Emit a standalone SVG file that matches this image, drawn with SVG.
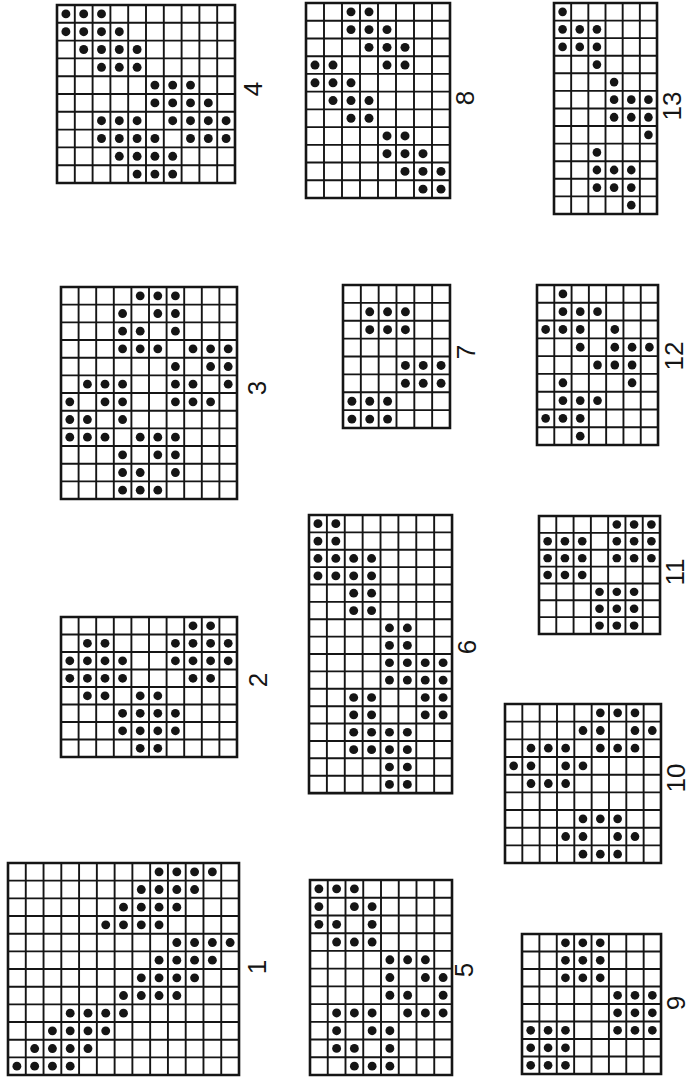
<svg xmlns="http://www.w3.org/2000/svg" xmlns:xlink="http://www.w3.org/1999/xlink" width="689" height="1077" viewBox="0 0 689 1077">
<style>
.in{fill:none;stroke:#151515;stroke-width:1.9;vector-effect:non-scaling-stroke}
.bd{fill:none;stroke:#151515;stroke-width:2.6;vector-effect:non-scaling-stroke}
.lb{font-family:"Liberation Sans",Arial,sans-serif;font-size:26px;fill:#151515;text-anchor:middle;dominant-baseline:central}
</style>
<defs>
<circle id="d" cx="0.5" cy="0.5" r="0.25" fill="#151515"/>
</defs>
<rect width="689" height="1077" fill="#ffffff"/>
<g id="connectors"/>

<g id="n4">
<g transform="translate(57 5) scale(17.8 17.8)">
<path class="in" d="M1 0V10M2 0V10M3 0V10M4 0V10M5 0V10M6 0V10M7 0V10M8 0V10M9 0V10M0 1H10M0 2H10M0 3H10M0 4H10M0 5H10M0 6H10M0 7H10M0 8H10M0 9H10"/>
<rect class="bd" width="10" height="10"/>
<use href="#d" x="0" y="0"/><use href="#d" x="1" y="0"/><use href="#d" x="2" y="0"/>
<use href="#d" x="0" y="1"/><use href="#d" x="1" y="1"/><use href="#d" x="2" y="1"/><use href="#d" x="3" y="1"/>
<use href="#d" x="1" y="2"/><use href="#d" x="2" y="2"/><use href="#d" x="3" y="2"/><use href="#d" x="4" y="2"/>
<use href="#d" x="2" y="3"/><use href="#d" x="3" y="3"/><use href="#d" x="4" y="3"/>
<use href="#d" x="5" y="4"/><use href="#d" x="6" y="4"/><use href="#d" x="7" y="4"/>
<use href="#d" x="5" y="5"/><use href="#d" x="6" y="5"/><use href="#d" x="7" y="5"/><use href="#d" x="8" y="5"/>
<use href="#d" x="2" y="6"/><use href="#d" x="3" y="6"/><use href="#d" x="4" y="6"/><use href="#d" x="6" y="6"/><use href="#d" x="7" y="6"/><use href="#d" x="8" y="6"/><use href="#d" x="9" y="6"/>
<use href="#d" x="2" y="7"/><use href="#d" x="3" y="7"/><use href="#d" x="4" y="7"/><use href="#d" x="5" y="7"/><use href="#d" x="7" y="7"/><use href="#d" x="8" y="7"/><use href="#d" x="9" y="7"/>
<use href="#d" x="3" y="8"/><use href="#d" x="4" y="8"/><use href="#d" x="5" y="8"/><use href="#d" x="6" y="8"/>
<use href="#d" x="4" y="9"/><use href="#d" x="5" y="9"/><use href="#d" x="6" y="9"/>
</g>
<text class="lb" x="253" y="89" transform="rotate(-90 253 89)">4</text>
</g>

<g id="n8">
<g transform="translate(306 3) scale(18 17.73)">
<path class="in" d="M1 0V11M2 0V11M3 0V11M4 0V11M5 0V11M6 0V11M7 0V11M0 1H8M0 2H8M0 3H8M0 4H8M0 5H8M0 6H8M0 7H8M0 8H8M0 9H8M0 10H8"/>
<rect class="bd" width="8" height="11"/>
<use href="#d" x="2" y="0"/><use href="#d" x="3" y="0"/>
<use href="#d" x="2" y="1"/><use href="#d" x="3" y="1"/><use href="#d" x="4" y="1"/>
<use href="#d" x="3" y="2"/><use href="#d" x="4" y="2"/><use href="#d" x="5" y="2"/>
<use href="#d" x="0" y="3"/><use href="#d" x="1" y="3"/><use href="#d" x="4" y="3"/><use href="#d" x="5" y="3"/>
<use href="#d" x="0" y="4"/><use href="#d" x="1" y="4"/><use href="#d" x="2" y="4"/>
<use href="#d" x="1" y="5"/><use href="#d" x="2" y="5"/><use href="#d" x="3" y="5"/>
<use href="#d" x="2" y="6"/><use href="#d" x="3" y="6"/>
<use href="#d" x="4" y="7"/><use href="#d" x="5" y="7"/>
<use href="#d" x="4" y="8"/><use href="#d" x="5" y="8"/><use href="#d" x="6" y="8"/>
<use href="#d" x="5" y="9"/><use href="#d" x="6" y="9"/><use href="#d" x="7" y="9"/>
<use href="#d" x="6" y="10"/><use href="#d" x="7" y="10"/>
</g>
<text class="lb" x="465" y="98" transform="rotate(-90 465 98)">8</text>
</g>

<g id="n13">
<g transform="translate(554 3) scale(17.17 17.58)">
<path class="in" d="M1 0V12M2 0V12M3 0V12M4 0V12M5 0V12M0 1H6M0 2H6M0 3H6M0 4H6M0 5H6M0 6H6M0 7H6M0 8H6M0 9H6M0 10H6M0 11H6"/>
<rect class="bd" width="6" height="12"/>
<use href="#d" x="0" y="0"/>
<use href="#d" x="0" y="1"/><use href="#d" x="1" y="1"/><use href="#d" x="2" y="1"/>
<use href="#d" x="0" y="2"/><use href="#d" x="1" y="2"/><use href="#d" x="2" y="2"/>
<use href="#d" x="2" y="3"/>
<use href="#d" x="3" y="4"/>
<use href="#d" x="3" y="5"/><use href="#d" x="4" y="5"/><use href="#d" x="5" y="5"/>
<use href="#d" x="3" y="6"/><use href="#d" x="4" y="6"/><use href="#d" x="5" y="6"/>
<use href="#d" x="5" y="7"/>
<use href="#d" x="2" y="8"/>
<use href="#d" x="2" y="9"/><use href="#d" x="3" y="9"/><use href="#d" x="4" y="9"/>
<use href="#d" x="2" y="10"/><use href="#d" x="3" y="10"/><use href="#d" x="4" y="10"/>
<use href="#d" x="4" y="11"/>
</g>
<text class="lb" x="672" y="106" transform="rotate(-90 672 106)">13</text>
</g>

<g id="n3">
<g transform="translate(61 287) scale(17.6 17.67)">
<path class="in" d="M1 0V12M2 0V12M3 0V12M4 0V12M5 0V12M6 0V12M7 0V12M8 0V12M9 0V12M0 1H10M0 2H10M0 3H10M0 4H10M0 5H10M0 6H10M0 7H10M0 8H10M0 9H10M0 10H10M0 11H10"/>
<rect class="bd" width="10" height="12"/>
<use href="#d" x="4" y="0"/><use href="#d" x="5" y="0"/><use href="#d" x="6" y="0"/>
<use href="#d" x="3" y="1"/><use href="#d" x="5" y="1"/><use href="#d" x="6" y="1"/>
<use href="#d" x="3" y="2"/><use href="#d" x="4" y="2"/><use href="#d" x="6" y="2"/>
<use href="#d" x="3" y="3"/><use href="#d" x="4" y="3"/><use href="#d" x="5" y="3"/><use href="#d" x="7" y="3"/><use href="#d" x="8" y="3"/><use href="#d" x="9" y="3"/>
<use href="#d" x="6" y="4"/><use href="#d" x="8" y="4"/><use href="#d" x="9" y="4"/>
<use href="#d" x="1" y="5"/><use href="#d" x="2" y="5"/><use href="#d" x="3" y="5"/><use href="#d" x="6" y="5"/><use href="#d" x="7" y="5"/><use href="#d" x="9" y="5"/>
<use href="#d" x="0" y="6"/><use href="#d" x="2" y="6"/><use href="#d" x="3" y="6"/><use href="#d" x="6" y="6"/><use href="#d" x="7" y="6"/><use href="#d" x="8" y="6"/>
<use href="#d" x="0" y="7"/><use href="#d" x="1" y="7"/><use href="#d" x="3" y="7"/>
<use href="#d" x="0" y="8"/><use href="#d" x="1" y="8"/><use href="#d" x="2" y="8"/><use href="#d" x="4" y="8"/><use href="#d" x="5" y="8"/><use href="#d" x="6" y="8"/>
<use href="#d" x="3" y="9"/><use href="#d" x="5" y="9"/><use href="#d" x="6" y="9"/>
<use href="#d" x="3" y="10"/><use href="#d" x="4" y="10"/><use href="#d" x="6" y="10"/>
<use href="#d" x="3" y="11"/><use href="#d" x="4" y="11"/><use href="#d" x="5" y="11"/>
</g>
<text class="lb" x="257" y="388" transform="rotate(-90 257 388)">3</text>
</g>

<g id="n7">
<g transform="translate(343 285) scale(17.83 17.88)">
<path class="in" d="M1 0V8M2 0V8M3 0V8M4 0V8M5 0V8M0 1H6M0 2H6M0 3H6M0 4H6M0 5H6M0 6H6M0 7H6"/>
<rect class="bd" width="6" height="8"/>
<use href="#d" x="1" y="1"/><use href="#d" x="2" y="1"/><use href="#d" x="3" y="1"/>
<use href="#d" x="1" y="2"/><use href="#d" x="2" y="2"/><use href="#d" x="3" y="2"/>
<use href="#d" x="3" y="4"/><use href="#d" x="4" y="4"/><use href="#d" x="5" y="4"/>
<use href="#d" x="3" y="5"/><use href="#d" x="4" y="5"/><use href="#d" x="5" y="5"/>
<use href="#d" x="0" y="6"/><use href="#d" x="1" y="6"/><use href="#d" x="2" y="6"/>
<use href="#d" x="0" y="7"/><use href="#d" x="1" y="7"/><use href="#d" x="2" y="7"/>
</g>
<text class="lb" x="466" y="352" transform="rotate(-90 466 352)">7</text>
</g>

<g id="n12">
<g transform="translate(537 285) scale(17.29 17.78)">
<path class="in" d="M1 0V9M2 0V9M3 0V9M4 0V9M5 0V9M6 0V9M0 1H7M0 2H7M0 3H7M0 4H7M0 5H7M0 6H7M0 7H7M0 8H7"/>
<rect class="bd" width="7" height="9"/>
<use href="#d" x="1" y="0"/>
<use href="#d" x="1" y="1"/><use href="#d" x="2" y="1"/><use href="#d" x="3" y="1"/>
<use href="#d" x="0" y="2"/><use href="#d" x="1" y="2"/><use href="#d" x="2" y="2"/><use href="#d" x="4" y="2"/>
<use href="#d" x="2" y="3"/><use href="#d" x="4" y="3"/><use href="#d" x="5" y="3"/><use href="#d" x="6" y="3"/>
<use href="#d" x="3" y="4"/><use href="#d" x="4" y="4"/><use href="#d" x="5" y="4"/>
<use href="#d" x="1" y="5"/><use href="#d" x="5" y="5"/>
<use href="#d" x="1" y="6"/><use href="#d" x="2" y="6"/><use href="#d" x="3" y="6"/>
<use href="#d" x="0" y="7"/><use href="#d" x="1" y="7"/><use href="#d" x="2" y="7"/>
<use href="#d" x="2" y="8"/>
</g>
<text class="lb" x="674" y="356" transform="rotate(-90 674 356)">12</text>
</g>

<g id="n2">
<g transform="translate(61 617) scale(17.6 17.5)">
<path class="in" d="M1 0V8M2 0V8M3 0V8M4 0V8M5 0V8M6 0V8M7 0V8M8 0V8M9 0V8M0 1H10M0 2H10M0 3H10M0 4H10M0 5H10M0 6H10M0 7H10"/>
<rect class="bd" width="10" height="8"/>
<use href="#d" x="7" y="0"/><use href="#d" x="8" y="0"/>
<use href="#d" x="1" y="1"/><use href="#d" x="2" y="1"/><use href="#d" x="6" y="1"/><use href="#d" x="7" y="1"/><use href="#d" x="8" y="1"/><use href="#d" x="9" y="1"/>
<use href="#d" x="0" y="2"/><use href="#d" x="1" y="2"/><use href="#d" x="2" y="2"/><use href="#d" x="3" y="2"/><use href="#d" x="6" y="2"/><use href="#d" x="7" y="2"/><use href="#d" x="8" y="2"/><use href="#d" x="9" y="2"/>
<use href="#d" x="0" y="3"/><use href="#d" x="1" y="3"/><use href="#d" x="2" y="3"/><use href="#d" x="3" y="3"/><use href="#d" x="7" y="3"/><use href="#d" x="8" y="3"/>
<use href="#d" x="1" y="4"/><use href="#d" x="2" y="4"/><use href="#d" x="4" y="4"/><use href="#d" x="5" y="4"/>
<use href="#d" x="3" y="5"/><use href="#d" x="4" y="5"/><use href="#d" x="5" y="5"/><use href="#d" x="6" y="5"/>
<use href="#d" x="3" y="6"/><use href="#d" x="4" y="6"/><use href="#d" x="5" y="6"/><use href="#d" x="6" y="6"/>
<use href="#d" x="4" y="7"/><use href="#d" x="5" y="7"/>
</g>
<text class="lb" x="258" y="680" transform="rotate(-90 258 680)">2</text>
</g>

<g id="n6">
<g transform="translate(309 515) scale(17.88 17.38)">
<path class="in" d="M1 0V16M2 0V16M3 0V16M4 0V16M5 0V16M6 0V16M7 0V16M0 1H8M0 2H8M0 3H8M0 4H8M0 5H8M0 6H8M0 7H8M0 8H8M0 9H8M0 10H8M0 11H8M0 12H8M0 13H8M0 14H8M0 15H8"/>
<rect class="bd" width="8" height="16"/>
<use href="#d" x="0" y="0"/><use href="#d" x="1" y="0"/>
<use href="#d" x="0" y="1"/><use href="#d" x="1" y="1"/>
<use href="#d" x="0" y="2"/><use href="#d" x="1" y="2"/><use href="#d" x="2" y="2"/><use href="#d" x="3" y="2"/>
<use href="#d" x="0" y="3"/><use href="#d" x="1" y="3"/><use href="#d" x="2" y="3"/><use href="#d" x="3" y="3"/>
<use href="#d" x="2" y="4"/><use href="#d" x="3" y="4"/>
<use href="#d" x="2" y="5"/><use href="#d" x="3" y="5"/>
<use href="#d" x="4" y="6"/><use href="#d" x="5" y="6"/>
<use href="#d" x="4" y="7"/><use href="#d" x="5" y="7"/>
<use href="#d" x="4" y="8"/><use href="#d" x="5" y="8"/><use href="#d" x="6" y="8"/><use href="#d" x="7" y="8"/>
<use href="#d" x="4" y="9"/><use href="#d" x="5" y="9"/><use href="#d" x="6" y="9"/><use href="#d" x="7" y="9"/>
<use href="#d" x="2" y="10"/><use href="#d" x="3" y="10"/><use href="#d" x="6" y="10"/><use href="#d" x="7" y="10"/>
<use href="#d" x="2" y="11"/><use href="#d" x="3" y="11"/><use href="#d" x="6" y="11"/><use href="#d" x="7" y="11"/>
<use href="#d" x="2" y="12"/><use href="#d" x="3" y="12"/><use href="#d" x="4" y="12"/><use href="#d" x="5" y="12"/>
<use href="#d" x="2" y="13"/><use href="#d" x="3" y="13"/><use href="#d" x="4" y="13"/><use href="#d" x="5" y="13"/>
<use href="#d" x="4" y="14"/><use href="#d" x="5" y="14"/>
<use href="#d" x="4" y="15"/><use href="#d" x="5" y="15"/>
</g>
<text class="lb" x="467" y="647" transform="rotate(-90 467 647)">6</text>
</g>

<g id="n11">
<g transform="translate(539 516) scale(17.29 16.86)">
<path class="in" d="M1 0V7M2 0V7M3 0V7M4 0V7M5 0V7M6 0V7M0 1H7M0 2H7M0 3H7M0 4H7M0 5H7M0 6H7"/>
<rect class="bd" width="7" height="7"/>
<use href="#d" x="4" y="0"/><use href="#d" x="5" y="0"/><use href="#d" x="6" y="0"/>
<use href="#d" x="0" y="1"/><use href="#d" x="1" y="1"/><use href="#d" x="2" y="1"/><use href="#d" x="4" y="1"/><use href="#d" x="5" y="1"/><use href="#d" x="6" y="1"/>
<use href="#d" x="0" y="2"/><use href="#d" x="1" y="2"/><use href="#d" x="2" y="2"/><use href="#d" x="4" y="2"/><use href="#d" x="5" y="2"/><use href="#d" x="6" y="2"/>
<use href="#d" x="0" y="3"/><use href="#d" x="1" y="3"/><use href="#d" x="2" y="3"/>
<use href="#d" x="3" y="4"/><use href="#d" x="4" y="4"/><use href="#d" x="5" y="4"/>
<use href="#d" x="3" y="5"/><use href="#d" x="4" y="5"/><use href="#d" x="5" y="5"/>
<use href="#d" x="3" y="6"/><use href="#d" x="4" y="6"/><use href="#d" x="5" y="6"/>
</g>
<text class="lb" x="675" y="572" transform="rotate(-90 675 572)">11</text>
</g>

<g id="n10">
<g transform="translate(505 704) scale(17.33 17.67)">
<path class="in" d="M1 0V9M2 0V9M3 0V9M4 0V9M5 0V9M6 0V9M7 0V9M8 0V9M0 1H9M0 2H9M0 3H9M0 4H9M0 5H9M0 6H9M0 7H9M0 8H9"/>
<rect class="bd" width="9" height="9"/>
<use href="#d" x="5" y="0"/><use href="#d" x="6" y="0"/><use href="#d" x="7" y="0"/>
<use href="#d" x="4" y="1"/><use href="#d" x="5" y="1"/><use href="#d" x="7" y="1"/><use href="#d" x="8" y="1"/>
<use href="#d" x="1" y="2"/><use href="#d" x="2" y="2"/><use href="#d" x="3" y="2"/><use href="#d" x="5" y="2"/><use href="#d" x="6" y="2"/><use href="#d" x="7" y="2"/>
<use href="#d" x="0" y="3"/><use href="#d" x="1" y="3"/><use href="#d" x="3" y="3"/><use href="#d" x="4" y="3"/>
<use href="#d" x="1" y="4"/><use href="#d" x="2" y="4"/><use href="#d" x="3" y="4"/>
<use href="#d" x="4" y="6"/><use href="#d" x="5" y="6"/><use href="#d" x="6" y="6"/>
<use href="#d" x="3" y="7"/><use href="#d" x="4" y="7"/><use href="#d" x="6" y="7"/><use href="#d" x="7" y="7"/>
<use href="#d" x="4" y="8"/><use href="#d" x="5" y="8"/><use href="#d" x="6" y="8"/>
</g>
<text class="lb" x="676" y="778" transform="rotate(-90 676 778)">10</text>
</g>

<g id="n1">
<g transform="translate(8 863) scale(17.77 17.67)">
<path class="in" d="M1 0V12M2 0V12M3 0V12M4 0V12M5 0V12M6 0V12M7 0V12M8 0V12M9 0V12M10 0V12M11 0V12M12 0V12M0 1H13M0 2H13M0 3H13M0 4H13M0 5H13M0 6H13M0 7H13M0 8H13M0 9H13M0 10H13M0 11H13"/>
<rect class="bd" width="13" height="12"/>
<use href="#d" x="8" y="0"/><use href="#d" x="9" y="0"/><use href="#d" x="10" y="0"/><use href="#d" x="11" y="0"/>
<use href="#d" x="7" y="1"/><use href="#d" x="8" y="1"/><use href="#d" x="9" y="1"/><use href="#d" x="10" y="1"/>
<use href="#d" x="6" y="2"/><use href="#d" x="7" y="2"/><use href="#d" x="8" y="2"/><use href="#d" x="9" y="2"/>
<use href="#d" x="5" y="3"/><use href="#d" x="6" y="3"/><use href="#d" x="7" y="3"/><use href="#d" x="8" y="3"/>
<use href="#d" x="9" y="4"/><use href="#d" x="10" y="4"/><use href="#d" x="11" y="4"/><use href="#d" x="12" y="4"/>
<use href="#d" x="8" y="5"/><use href="#d" x="9" y="5"/><use href="#d" x="10" y="5"/><use href="#d" x="11" y="5"/>
<use href="#d" x="7" y="6"/><use href="#d" x="8" y="6"/><use href="#d" x="9" y="6"/><use href="#d" x="10" y="6"/>
<use href="#d" x="6" y="7"/><use href="#d" x="7" y="7"/><use href="#d" x="8" y="7"/><use href="#d" x="9" y="7"/>
<use href="#d" x="3" y="8"/><use href="#d" x="4" y="8"/><use href="#d" x="5" y="8"/><use href="#d" x="6" y="8"/>
<use href="#d" x="2" y="9"/><use href="#d" x="3" y="9"/><use href="#d" x="4" y="9"/><use href="#d" x="5" y="9"/>
<use href="#d" x="1" y="10"/><use href="#d" x="2" y="10"/><use href="#d" x="3" y="10"/><use href="#d" x="4" y="10"/>
<use href="#d" x="0" y="11"/><use href="#d" x="1" y="11"/><use href="#d" x="2" y="11"/><use href="#d" x="3" y="11"/>
</g>
<text class="lb" x="257" y="967" transform="rotate(-90 257 967)">1</text>
</g>

<g id="n5">
<g transform="translate(310 880) scale(17.75 17.73)">
<path class="in" d="M1 0V11M2 0V11M3 0V11M4 0V11M5 0V11M6 0V11M7 0V11M0 1H8M0 2H8M0 3H8M0 4H8M0 5H8M0 6H8M0 7H8M0 8H8M0 9H8M0 10H8"/>
<rect class="bd" width="8" height="11"/>
<use href="#d" x="0" y="0"/><use href="#d" x="1" y="0"/><use href="#d" x="2" y="0"/>
<use href="#d" x="0" y="1"/><use href="#d" x="2" y="1"/><use href="#d" x="3" y="1"/>
<use href="#d" x="0" y="2"/><use href="#d" x="1" y="2"/><use href="#d" x="3" y="2"/>
<use href="#d" x="1" y="3"/><use href="#d" x="2" y="3"/><use href="#d" x="3" y="3"/>
<use href="#d" x="4" y="4"/><use href="#d" x="5" y="4"/><use href="#d" x="6" y="4"/>
<use href="#d" x="4" y="5"/><use href="#d" x="6" y="5"/><use href="#d" x="7" y="5"/>
<use href="#d" x="4" y="6"/><use href="#d" x="5" y="6"/><use href="#d" x="7" y="6"/>
<use href="#d" x="1" y="7"/><use href="#d" x="2" y="7"/><use href="#d" x="3" y="7"/><use href="#d" x="5" y="7"/><use href="#d" x="6" y="7"/><use href="#d" x="7" y="7"/>
<use href="#d" x="1" y="8"/><use href="#d" x="3" y="8"/><use href="#d" x="4" y="8"/>
<use href="#d" x="1" y="9"/><use href="#d" x="2" y="9"/><use href="#d" x="4" y="9"/>
<use href="#d" x="2" y="10"/><use href="#d" x="3" y="10"/><use href="#d" x="4" y="10"/>
</g>
<text class="lb" x="464" y="970" transform="rotate(-90 464 970)">5</text>
</g>

<g id="n9">
<g transform="translate(522 934) scale(17.38 17.5)">
<path class="in" d="M1 0V8M2 0V8M3 0V8M4 0V8M5 0V8M6 0V8M7 0V8M0 1H8M0 2H8M0 3H8M0 4H8M0 5H8M0 6H8M0 7H8"/>
<rect class="bd" width="8" height="8"/>
<use href="#d" x="2" y="0"/><use href="#d" x="3" y="0"/><use href="#d" x="4" y="0"/>
<use href="#d" x="2" y="1"/><use href="#d" x="3" y="1"/><use href="#d" x="4" y="1"/>
<use href="#d" x="2" y="2"/><use href="#d" x="3" y="2"/><use href="#d" x="4" y="2"/>
<use href="#d" x="5" y="3"/><use href="#d" x="6" y="3"/><use href="#d" x="7" y="3"/>
<use href="#d" x="5" y="4"/><use href="#d" x="6" y="4"/><use href="#d" x="7" y="4"/>
<use href="#d" x="0" y="5"/><use href="#d" x="1" y="5"/><use href="#d" x="2" y="5"/><use href="#d" x="5" y="5"/><use href="#d" x="6" y="5"/><use href="#d" x="7" y="5"/>
<use href="#d" x="0" y="6"/><use href="#d" x="1" y="6"/><use href="#d" x="2" y="6"/>
<use href="#d" x="0" y="7"/><use href="#d" x="1" y="7"/><use href="#d" x="2" y="7"/>
</g>
<text class="lb" x="676" y="1003" transform="rotate(-90 676 1003)">9</text>
</g>
</svg>
